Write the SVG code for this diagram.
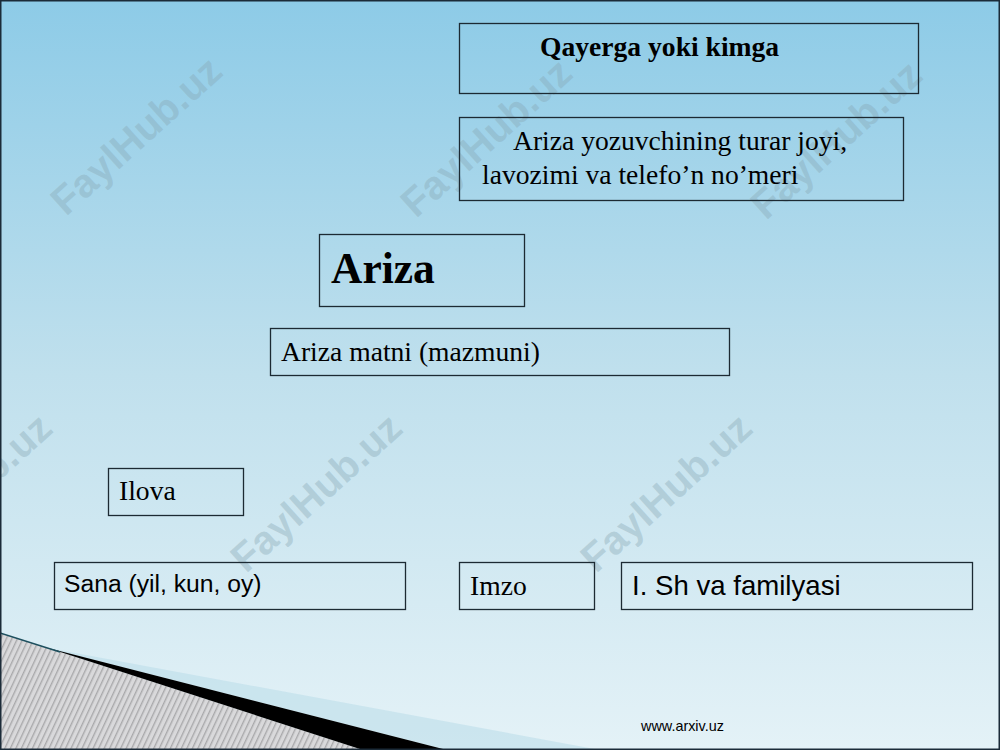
<svg xmlns="http://www.w3.org/2000/svg" width="1000" height="750" viewBox="0 0 1000 750">
  <defs>
    <linearGradient id="bg" x1="0" y1="0" x2="0" y2="1">
      <stop offset="0" stop-color="#8dcbe7"/>
      <stop offset="0.5" stop-color="#c0e0ed"/>
      <stop offset="1" stop-color="#e4f2f7"/>
    </linearGradient>
    <pattern id="hatch" width="5" height="5" patternUnits="userSpaceOnUse" patternTransform="rotate(25)">
      <rect width="5" height="5" fill="#d9d9db"/>
      <rect width="1.4" height="5" fill="#a9a9ab"/>
    </pattern>
    <style>
      .box { fill: none; stroke: #1c2a33; stroke-width: 1.3; }
      .serif { font-family: "Liberation Serif", "Times New Roman", serif; fill: #000; }
      .sans { font-family: "Liberation Sans", Arial, sans-serif; fill: #000; }
      .wm { font-family: "Liberation Sans", Arial, sans-serif; font-weight: bold; font-size: 40px; fill: #86a6b3; fill-opacity: 0.38; }
    </style>
  </defs>

  <rect x="0" y="0" width="1000" height="750" fill="url(#bg)"/>

  <g id="decoration">
    <polygon points="48,648 600,750 447,750" fill="#bcdde9" fill-opacity="0.6"/>
    <polygon points="0,633 48,648 363,750 0,750" fill="url(#hatch)"/>
    <polygon points="48,648 447,750 363,750" fill="#000"/>
    <line x1="0" y1="633" x2="60" y2="652" stroke="#1d4f5e" stroke-width="1.5"/>
  </g>

  <g id="watermarks">
    <text class="wm" transform="translate(66,217) rotate(-42)">FaylHub.uz</text>
    <text class="wm" transform="translate(416,219) rotate(-42)">FaylHub.uz</text>
    <text class="wm" transform="translate(766,221) rotate(-42)">FaylHub.uz</text>
    <text class="wm" transform="translate(-104,574) rotate(-42)">FaylHub.uz</text>
    <text class="wm" transform="translate(246,574) rotate(-42)">FaylHub.uz</text>
    <text class="wm" transform="translate(596,574) rotate(-42)">FaylHub.uz</text>
  </g>

  <g id="connectors"/>

  <g id="node-qayerga">
    <rect class="box" x="459.5" y="23.5" width="459" height="70"/>
    <text class="serif" x="540" y="56" font-size="27.6" font-weight="bold">Qayerga yoki kimga</text>
  </g>

  <g id="node-turar-joyi">
    <rect class="box" x="459.5" y="117.5" width="444" height="83"/>
    <text class="serif" font-size="27.6">
      <tspan x="513" y="150">Ariza yozuvchining turar joyi,</tspan>
      <tspan x="482" y="184">lavozimi va telefo’n no’meri</tspan>
    </text>
  </g>

  <g id="node-ariza">
    <rect class="box" x="319.5" y="234.5" width="205" height="72"/>
    <text class="serif" x="331" y="283" font-size="43.5" font-weight="bold">Ariza</text>
  </g>

  <g id="node-matni">
    <rect class="box" x="270.5" y="328.5" width="459" height="47"/>
    <text class="serif" x="281" y="361" font-size="27.6">Ariza matni (mazmuni)</text>
  </g>

  <g id="node-ilova">
    <rect class="box" x="108.5" y="468.5" width="135" height="47"/>
    <text class="serif" x="119" y="500" font-size="27.6">Ilova</text>
  </g>

  <g id="node-sana">
    <rect class="box" x="54.5" y="562.5" width="351" height="47"/>
    <text class="sans" x="64" y="592" font-size="24.7">Sana (yil, kun, oy)</text>
  </g>

  <g id="node-imzo">
    <rect class="box" x="459.5" y="562.5" width="135" height="47"/>
    <text class="serif" x="470" y="595" font-size="27.6">Imzo</text>
  </g>

  <g id="node-ish">
    <rect class="box" x="621.5" y="562.5" width="351" height="47"/>
    <text class="sans" x="632" y="595" font-size="27.6">I. Sh va familyasi</text>
  </g>

  <text class="sans" x="641" y="731" font-size="14.4" fill="#111">www.arxiv.uz</text>

  <rect x="0.75" y="0.75" width="998.5" height="748.5" fill="none" stroke="#1b2b38" stroke-width="1.5"/>
</svg>
